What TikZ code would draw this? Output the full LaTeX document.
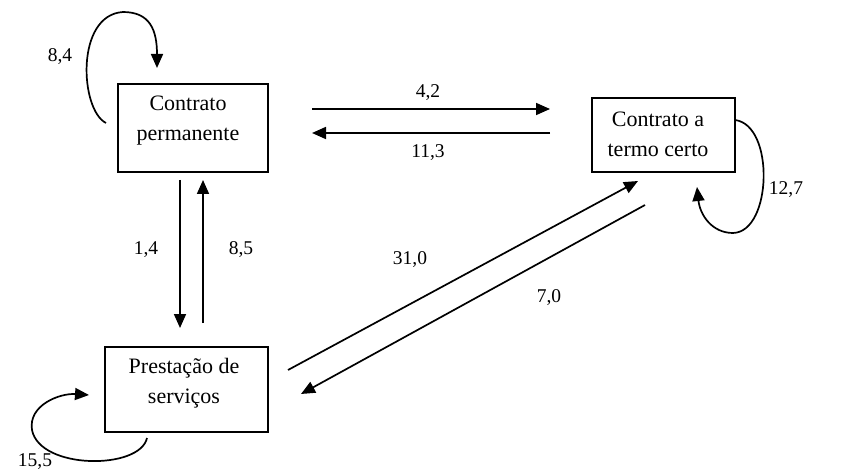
\documentclass[tikz,border=0pt]{standalone}
\usepackage{fontspec}
\setmainfont{Liberation Serif}
\usetikzlibrary{arrows.meta}
\tikzset{
  box/.style={draw, line width=1.7pt, inner sep=0pt},
  boxtxt/.style={align=center, font=\fontsize{22}{30}\selectfont, inner sep=0pt},
  lbl/.style={font=\fontsize{19.5}{21}\selectfont, inner sep=0pt},
  arr/.style={line width=1.7pt, -{Triangle[length=14pt,width=12pt]}},
  ln/.style={line width=1.7pt}
}
\begin{document}
\begin{tikzpicture}[x=1pt,y=-1pt]
\useasboundingbox (0,0) rectangle (843,473);
% boxes
\node[box, minimum width=150pt, minimum height=88pt] (cp) at (193,128) {};
\node[box, minimum width=143pt, minimum height=74pt] (ctc) at (663.5,135) {};
\node[box, minimum width=163pt, minimum height=85pt] (ps) at (186.5,389.5) {};
\node[boxtxt] (cpt) at (188,121) {Contrato\\permanente};
\node[boxtxt] (ctct) at (658,134) {Contrato a\\termo certo};
\node[boxtxt] (pst) at (184,383) {Prestação de\\serviços};
% connector end points
\coordinate (h1s) at (312,109); \coordinate (h1e) at (550,109);
\coordinate (h2s) at (550,133); \coordinate (h2e) at (312,133);
\coordinate (v1s) at (180,180); \coordinate (v1e) at (180,328);
\coordinate (v2s) at (203,323); \coordinate (v2e) at (203,180);
\coordinate (d1s) at (288,370); \coordinate (d1e) at (638,181);
\coordinate (d2s) at (645,205); \coordinate (d2e) at (301,394);
\coordinate (l1s) at (106,123); \coordinate (l1e) at (157,68);
\coordinate (l2s) at (735,120); \coordinate (l2e) at (697,187);
\coordinate (l3s) at (147,438); \coordinate (l3e) at (89,395);
% arrows
\draw[arr] (h1s) -- (h1e);
\draw[arr] (h2s) -- (h2e);
\draw[arr] (v1s) -- (v1e);
\draw[arr] (v2s) -- (v2e);
\draw[arr] (d1s) -- (d1e);
\draw[arr] (d2s) -- (d2e);
% self loops
\draw[arr] (l1s) .. controls (80,110) and (75,15) .. (123,12)
  .. controls (150,12) and (157,30) .. (l1e);
\draw[arr] (l2s) .. controls (775,125) and (772,232) .. (733,233)
  .. controls (712,233) and (700,215) .. (l2e);
\draw[arr] (l3s) .. controls (140,470) and (40,470) .. (32,430)
  .. controls (28,405) and (60,393) .. (l3e);
% labels
\node[lbl] (t84) at (60,57) {8,4};
\node[lbl] (t42) at (428,93) {4,2};
\node[lbl] (t113) at (428,153) {11,3};
\node[lbl] (t127) at (786,190) {12,7};
\node[lbl] (t14) at (146,250) {1,4};
\node[lbl] (t85) at (241,250) {8,5};
\node[lbl] (t310) at (410,260) {31,0};
\node[lbl] (t70) at (549,298) {7,0};
\node[lbl] (t155) at (35,462) {15,5};
\end{tikzpicture}
\end{document}
